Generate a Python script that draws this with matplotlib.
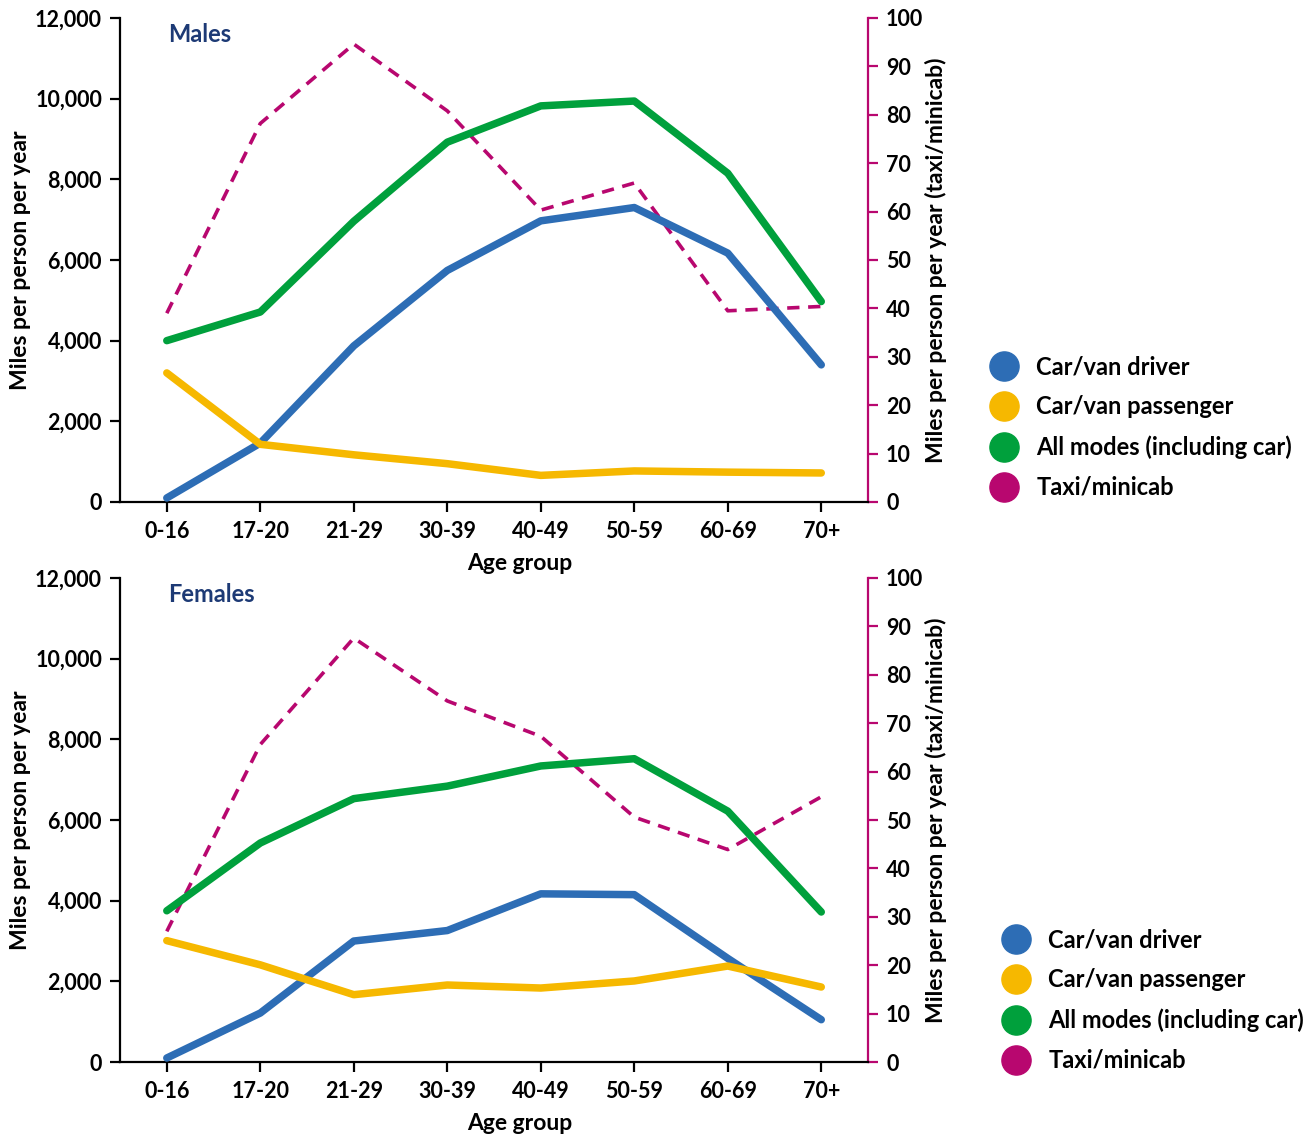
import matplotlib
matplotlib.use("Agg")
import matplotlib.pyplot as plt
from matplotlib.lines import Line2D

plt.rcParams['font.family'] = ['Lato', 'DejaVu Sans']
plt.rcParams['font.weight'] = 'bold'

age_groups = ["0-16", "17-20", "21-29", "30-39", "40-49", "50-59", "60-69", "70+"]

# males
m_driver = [100, 1460, 3870, 5740, 6970, 7300, 6170, 3400]
m_passenger = [3200, 1430, 1170, 950, 660, 770, 740, 720]
m_all = [4000, 4710, 6960, 8920, 9820, 9940, 8150, 4970]
m_taxi = [39.0, 78.2, 94.6, 80.8, 60.3, 65.9, 39.5, 40.4]

# females
f_driver = [100, 1215, 3000, 3260, 4170, 4150, 2570, 1050]
f_passenger = [3010, 2410, 1670, 1910, 1835, 2010, 2380, 1860]
f_all = [3750, 5430, 6530, 6840, 7340, 7520, 6220, 3720]
f_taxi = [27.0, 65.6, 87.6, 74.6, 67.3, 50.6, 43.9, 54.8]

series_labels = ["Car/van driver", "Car/van passenger", "All modes (including car)", "Taxi/minicab"]
colors = ["#2D6DB5", "#F6B800", "#00A03C", "#B8076F"]
title_color = "#1D3A75"

fig = plt.figure(figsize=(13.12, 11.36), dpi=100)

panels = [
    ("Males", m_driver, m_passenger, m_all, m_taxi, [0.0915, 0.5581, 0.5701, 0.4261], (0.7386, 0.706)),
    ("Females", f_driver, f_passenger, f_all, f_taxi, [0.0915, 0.0651, 0.5701, 0.4261], (0.7477, 0.2016)),
]

x = list(range(len(age_groups)))
for title, drv, pas, alm, taxi, rect, leg_pos in panels:
    ax = fig.add_axes(rect)
    ax2 = ax.twinx()
    ax2.plot(x, taxi, color=colors[3], lw=2.6, dashes=(3.4, 2.4), zorder=1)
    ax.plot(x, drv, color=colors[0], lw=5.4, solid_capstyle='round', solid_joinstyle='round', zorder=3)
    ax.plot(x, pas, color=colors[1], lw=5.4, solid_capstyle='round', solid_joinstyle='round', zorder=3)
    ax.plot(x, alm, color=colors[2], lw=5.4, solid_capstyle='round', solid_joinstyle='round', zorder=3)
    ax.set_zorder(ax2.get_zorder() + 1)
    ax.patch.set_visible(False)

    ax.set_xlim(-0.5, 7.5)
    ax.set_ylim(0, 12000)
    ax2.set_ylim(0, 100)
    ax.set_xticks(x)
    ax.set_xticklabels(age_groups)
    ax.set_yticks(range(0, 12001, 2000))
    ax.set_yticklabels([f"{v:,}" for v in range(0, 12001, 2000)])
    ax2.set_yticks(range(0, 101, 10))

    for s in ["top", "right"]:
        ax.spines[s].set_visible(False)
    for s in ["top", "left", "bottom"]:
        ax2.spines[s].set_visible(False)
    ax.spines["left"].set_linewidth(1.6)
    ax.spines["bottom"].set_linewidth(1.6)
    ax2.spines["right"].set_color(colors[3])
    ax2.spines["right"].set_linewidth(1.6)

    ax.tick_params(axis='both', labelsize=15.5, length=7, width=1.6, pad=6)
    ax.tick_params(axis='x', pad=7)
    ax2.tick_params(axis='y', labelsize=15.5, length=7, width=1.6, color=colors[3], pad=6)

    ax.set_ylabel("Miles per person per year", fontsize=16.5, fontweight='bold', labelpad=3)
    ax.set_xlabel("Age group", fontsize=16.5, fontweight='bold')
    ax.xaxis.set_label_coords(0.535, -0.105)
    ax2.set_ylabel("Miles per person per year (taxi/minicab)", fontsize=16.5, fontweight='bold', labelpad=1)

    ax.text(0.064, 0.965, title, transform=ax.transAxes, fontsize=17, fontweight='bold',
            color=title_color, va='center', ha='left')

    handles = [Line2D([], [], ls='none', marker='o', markersize=21, color=c) for c in colors]
    fig.legend(handles, series_labels, loc='upper left', bbox_to_anchor=leg_pos, frameon=False,
               fontsize=17, handletextpad=0.75, labelspacing=0.72, handlelength=1.2)

fig.savefig("out.png", dpi=100)
